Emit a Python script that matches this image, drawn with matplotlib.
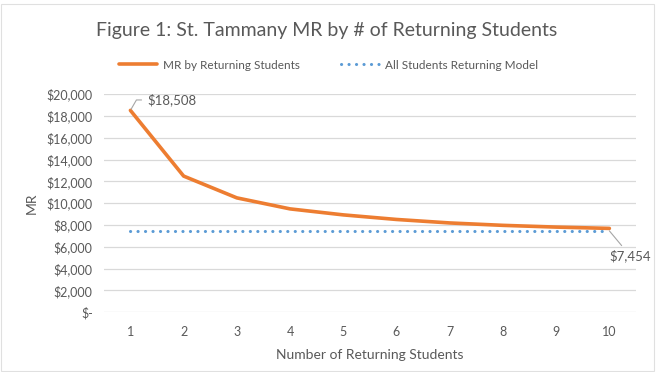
import matplotlib
matplotlib.use("Agg")
import matplotlib.pyplot as plt
from matplotlib.patches import Rectangle
from matplotlib.ticker import FuncFormatter

plt.rcParams['font.family'] = ['Lato', 'DejaVu Sans']

# --- Données ---
n_students = [1, 2, 3, 4, 5, 6, 7, 8, 9, 10]
mr_returning = [18508, 12480, 10480, 9470, 8920, 8500, 8180, 7960, 7800, 7680]
mr_all_model = [7454] * 10

TEXT = "#595959"
ORANGE = "#ED7D31"
BLUE = "#5B9BD5"
GRID = "#D9D9D9"

fig = plt.figure(figsize=(6.57, 3.72), dpi=100)
ax = fig.add_axes([0.158, 0.161, 0.81, 0.586])

ax.plot(n_students, mr_returning, color=ORANGE, lw=2.6, solid_capstyle="round",
        label="MR by Returning Students", zorder=3)
ax.plot(n_students, mr_all_model, color=BLUE, lw=2.2, linestyle=(0, (0.05, 2.4)),
        dash_capstyle="round", label="All Students Returning Model", zorder=3)

ax.set_xlim(0.5, 10.5)
ax.set_ylim(0, 20000)
ax.set_yticks(range(0, 20001, 2000))
ax.set_xticks(n_students)

def money(v, pos):
    return "$-" if v == 0 else f"${v:,.0f}"

ax.yaxis.set_major_formatter(FuncFormatter(money))
ax.grid(axis="y", color=GRID, lw=0.9)
ax.set_axisbelow(True)
for s in ax.spines.values():
    s.set_visible(False)
ax.tick_params(length=0, labelsize=9, colors=TEXT, pad=8)
ax.tick_params(axis="x", pad=10)

ax.set_xlabel("Number of Returning Students", fontsize=10, color=TEXT, labelpad=8)
ax.set_ylabel("MR", fontsize=10, color=TEXT, labelpad=6)

# étiquettes de données avec traits de rappel
ax.annotate(f"${mr_returning[0]:,}", xy=(n_students[0], mr_returning[0]),
            xytext=(12, 7.5), textcoords="offset points", fontsize=9.5, color=TEXT,
            va="center", ha="left",
            arrowprops=dict(arrowstyle="-", color="#A6A6A6", lw=0.8,
                            connectionstyle="angle,angleA=0,angleB=60,rad=0",
                            shrinkA=2, shrinkB=1))
ax.annotate(f"${mr_all_model[-1]:,}", xy=(n_students[-1], mr_all_model[-1]),
            xytext=(15, -18), textcoords="offset points", fontsize=9.5, color=TEXT,
            va="center", ha="center",
            arrowprops=dict(arrowstyle="-", color="#A6A6A6", lw=0.8,
                            shrinkA=1, shrinkB=0))

fig.text(0.497, 0.918, "Figure 1: St. Tammany MR by # of Returning Students",
         ha="center", va="center", fontsize=14, color=TEXT)
fig.legend(loc="center", bbox_to_anchor=(0.5, 0.825), ncol=2, frameon=False,
           fontsize=8.5, labelcolor=TEXT, handlelength=3.2, columnspacing=3.5,
           handletextpad=0.5)

fig.patches.append(Rectangle((0.002, 0.002), 0.994, 0.986, transform=fig.transFigure,
                             fill=False, edgecolor="#E0E0E0", lw=0.8))

fig.savefig("out.png", dpi=100, facecolor="white")
